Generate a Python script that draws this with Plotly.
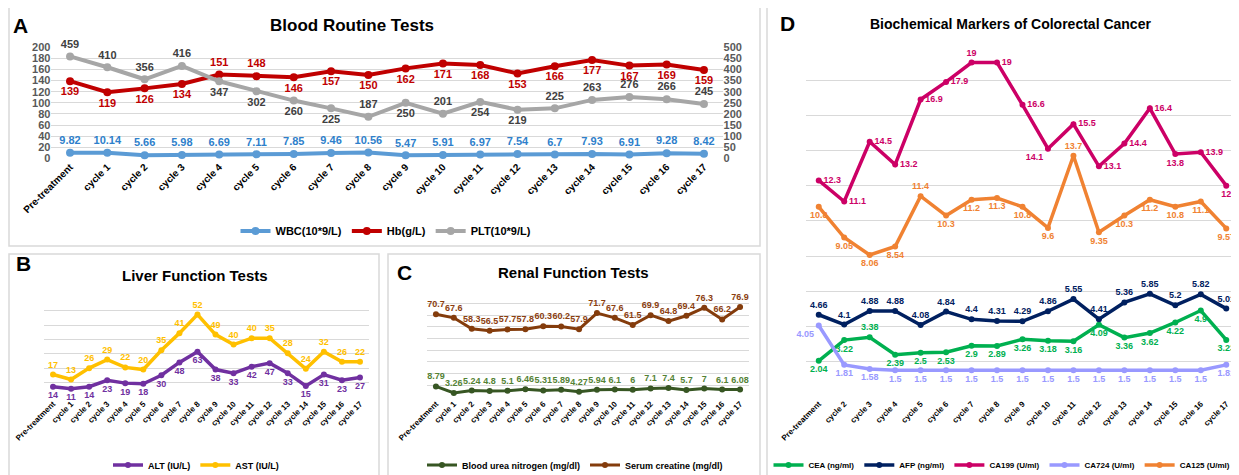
import plotly.graph_objects as go

# the page body has an 8px margin, so the figure is drawn 8px in from the top-left corner
OX, OY = 8, 8
FW, FH = 1239 - OX, 475 - OY

# ---------------- data ----------------
cats_abc = ["Pre-treatment"] + [f"cycle {i}" for i in range(1, 18)]
cats_d = ["Pre-treatment"] + [f"cycle {i}" for i in range(2, 18)]

wbc = [9.82, 10.14, 5.66, 5.98, 6.69, 7.11, 7.85, 9.46, 10.56, 5.47, 5.91, 6.97, 7.54, 6.7, 7.93, 6.91, 9.28, 8.42]
hb = [139, 119, 126, 134, 151, 148, 146, 157, 150, 162, 171, 168, 153, 166, 177, 167, 169, 159]
plt_ = [459, 410, 356, 416, 347, 302, 260, 225, 187, 250, 201, 254, 219, 225, 263, 276, 266, 245]

alt = [14, 11, 14, 23, 19, 18, 30, 48, 63, 38, 33, 42, 47, 33, 15, 31, 23, 27]
ast = [17, 13, 26, 29, 22, 20, 35, 41, 52, 49, 40, 40, 35, 28, 24, 32, 26, 22]

bun = [8.79, 3.26, 5.24, 4.8, 5.1, 6.46, 5.31, 5.89, 4.27, 5.94, 6.1, 6, 7.1, 7.4, 5.7, 7, 6.1, 6.08]
scr = [70.7, 67.6, 58.3, 56.5, 57.7, 57.8, 60.3, 60.2, 57.9, 71.7, 67.6, 61.5, 69.9, 64.8, 69.4, 76.3, 66.2, 76.9]

cea = [2.04, 3.22, 3.38, 2.39, 2.5, 2.53, 2.9, 2.89, 3.26, 3.18, 3.16, 4.09, 3.36, 3.62, 4.22, 4.9, 3.23]
afp = [4.66, 4.1, 4.88, 4.88, 4.08, 4.84, 4.4, 4.31, 4.29, 4.86, 5.55, 4.41, 5.36, 5.85, 5.2, 5.82, 5.01]
ca199 = [12.3, 11.1, 14.5, 13.2, 16.9, 17.9, 19, 19, 16.6, 14.1, 15.5, 13.1, 14.4, 16.4, 13.8, 13.9, 12]
ca724 = [4.05, 1.81, 1.58, 1.5, 1.5, 1.5, 1.5, 1.5, 1.5, 1.5, 1.5, 1.5, 1.5, 1.5, 1.5, 1.5, 1.81]
ca125 = [10.8, 9.05, 8.06, 8.54, 11.4, 10.3, 11.2, 11.3, 10.8, 9.6, 13.7, 9.35, 10.3, 11.2, 10.8, 11.1, 9.57]

# ---------------- label placement styles ----------------
T, B_, R = "top center", "bottom center", "middle right"
pos_hb = [B_] * 4 + [T, T] + [B_] * 12
pos_plt = [T] * 4 + [B_] * 4 + [T, B_, T, B_, B_] + [T] * 5
pos_cea = [B_, B_, T] + [B_] * 14
pos_724 = ["bottom left"] + [B_] * 16
pos_199 = [R] * 6 + [T] + [R, R] + ["bottom left"] + [R] * 4 + [B_, R, B_]
pos_125 = [B_] * 4 + [T] + [B_] * 5 + [T] + [B_] * 6

FONT = "Liberation Sans, Arial, sans-serif"


def px(x):
    return (x - OX) / FW


def py(y):
    return 1 - (y - OY) / FH


def lbl(size, color):
    return dict(family=FONT, size=size, color=color, weight="bold")


fig = go.Figure()

# ---------- Panel A ----------
fig.add_trace(go.Scatter(x=cats_abc, y=wbc, name="WBC(10*9/L)", mode="lines+markers+text",
                         text=wbc, textposition="top center", textfont=lbl(11, "#2E7FCB"),
                         line=dict(color="#5B9BD5", width=4), marker=dict(size=8, color="#5B9BD5"),
                         xaxis="x", yaxis="y", legend="legend", cliponaxis=False))
fig.add_trace(go.Scatter(x=cats_abc, y=hb, name="Hb(g/L)", mode="lines+markers+text",
                         text=hb, textposition=pos_hb, textfont=lbl(11, "#C00000"),
                         line=dict(color="#C00000", width=4), marker=dict(size=8, color="#C00000"),
                         xaxis="x", yaxis="y", legend="legend", cliponaxis=False))
fig.add_trace(go.Scatter(x=cats_abc, y=plt_, name="PLT(10*9/L)", mode="lines+markers+text",
                         text=plt_, textposition=pos_plt, textfont=lbl(11, "#404040"),
                         line=dict(color="#A6A6A6", width=4), marker=dict(size=8, color="#A6A6A6"),
                         xaxis="x", yaxis="y2", legend="legend", cliponaxis=False))

# ---------- Panel B ----------
fig.add_trace(go.Scatter(x=cats_abc, y=alt, name="ALT (IU/L)", mode="lines+markers+text",
                         text=alt, textposition="bottom center", textfont=lbl(9, "#7030A0"),
                         line=dict(color="#7030A0", width=3.5), marker=dict(size=6, color="#7030A0"),
                         stackgroup="liver", fill="none",
                         xaxis="x2", yaxis="y3", legend="legend2", cliponaxis=False))
fig.add_trace(go.Scatter(x=cats_abc, y=ast, name="AST (IU/L)", mode="lines+markers+text",
                         text=ast, textposition="top center", textfont=lbl(9, "#FFC000"),
                         line=dict(color="#FFC000", width=3.5), marker=dict(size=6, color="#FFC000"),
                         stackgroup="liver", fill="none",
                         xaxis="x2", yaxis="y3", legend="legend2", cliponaxis=False))

# ---------- Panel C ----------
fig.add_trace(go.Scatter(x=cats_abc, y=bun, name="Blood urea nitrogen (mg/dl)", mode="lines+markers+text",
                         text=bun, textposition="top center", textfont=lbl(9, "#548235"),
                         line=dict(color="#375623", width=3), marker=dict(size=6, color="#375623"),
                         xaxis="x3", yaxis="y4", legend="legend3", cliponaxis=False))
fig.add_trace(go.Scatter(x=cats_abc, y=scr, name="Serum creatine (mg/dl)", mode="lines+markers+text",
                         text=scr, textposition="top center", textfont=lbl(9, "#8B3E0F"),
                         line=dict(color="#843C0C", width=3), marker=dict(size=6, color="#843C0C"),
                         xaxis="x3", yaxis="y4", legend="legend3", cliponaxis=False))

# ---------- Panel D ----------
d_series = [
    ("CEA (ng/ml)", cea, "#00B050", "#00B050", pos_cea),
    ("AFP (ng/ml)", afp, "#002060", "#002060", "top center"),
    ("CA199 (U/ml)", ca199, "#CC0066", "#CC0066", pos_199),
    ("CA724 (U/ml)", ca724, "#9999FF", "#9999FF", pos_724),
    ("CA125 (U/ml)", ca125, "#F08232", "#F08232", pos_125),
]
for name, vals, col, tcol, pos in d_series:
    fig.add_trace(go.Scatter(x=cats_d, y=vals, name=name, mode="lines+markers+text",
                             text=vals, textposition=pos, textfont=lbl(9, tcol),
                             line=dict(color=col, width=3.5), marker=dict(size=6, color=col),
                             xaxis="x4", yaxis="y5", legend="legend4", cliponaxis=False))

grid = "#D9D9D9"
xcommon = dict(type="category", showgrid=False, zeroline=False, showline=False, ticks="",
               tickangle=-45, automargin=False)
ycommon = dict(showgrid=True, gridcolor=grid, gridwidth=1.3, zeroline=False, showline=False, ticks="",
               automargin=False)

fig.update_layout(
    width=FW, height=FH, margin=dict(l=0, r=0, t=0, b=0, autoexpand=False),
    paper_bgcolor="white", plot_bgcolor="rgba(0,0,0,0)",
    font=dict(family=FONT, color="#000000"),
    hovermode=False,
    xaxis=dict(**xcommon, domain=[px(51.4), px(722.6)], anchor="y", range=[-0.5, 17.5],
               tickfont=dict(family=FONT, size=10, color="#000000", weight="bold")),
    yaxis=dict(**ycommon, domain=[py(158.3), py(47.3)], range=[0, 200], dtick=20,
               showticklabels=True, tickfont=dict(family=FONT, size=11, color="#595959", weight="bold")),
    yaxis2=dict(overlaying="y", side="right", range=[0, 500], dtick=50, showgrid=False, zeroline=False,
                showline=False, ticks="", anchor="x", automargin=False,
                tickfont=dict(family=FONT, size=11, color="#595959", weight="bold")),
    xaxis2=dict(**xcommon, domain=[px(44), px(369)], anchor="y3", range=[-0.5, 17.5],
                tickfont=dict(family=FONT, size=8, color="#000000", weight="bold")),
    yaxis3=dict(**ycommon, domain=[py(396.7), py(296.7)], range=[0, 140], dtick=20, showticklabels=False,
                anchor="x2"),
    xaxis3=dict(**xcommon, domain=[px(427), px(749)], anchor="y4", range=[-0.5, 17.5],
                tickfont=dict(family=FONT, size=8, color="#000000", weight="bold")),
    yaxis4=dict(**ycommon, domain=[py(396.7), py(291.7)], range=[0, 90], dtick=10, showticklabels=False,
                anchor="x3"),
    xaxis4=dict(**xcommon, domain=[px(806), 1.0], anchor="y5", range=[-0.5, 16.5],
                tickfont=dict(family=FONT, size=8, color="#000000", weight="bold")),
    yaxis5=dict(**ycommon, domain=[py(396.7), py(45)], range=[0, 20], dtick=2, showticklabels=False,
                anchor="x4"),
)

legend_common = dict(orientation="h", xanchor="center", yanchor="middle", bgcolor="rgba(0,0,0,0)",
                     itemwidth=30, tracegroupgap=0)
fig.update_layout(
    legend=dict(**legend_common, x=px(386), y=py(231),
                font=dict(family=FONT, size=11, color="#000000", weight="bold")),
    legend2=dict(**legend_common, x=px(196), y=py(465),
                 font=dict(family=FONT, size=9, color="#000000", weight="bold")),
    legend3=dict(**legend_common, x=px(575), y=py(465),
                 font=dict(family=FONT, size=9, color="#000000", weight="bold")),
    legend4=dict(**legend_common, x=px(1002), y=py(465),
                 font=dict(family=FONT, size=8, color="#000000", weight="bold")),
)

# panel frames
shapes = []
for x0, y0, x1, y1 in [(9, 7, 760, 246), (9, 254, 379, 490), (388, 254, 760, 490), (767, 7, 1250, 490)]:
    shapes.append(dict(type="rect", xref="paper", yref="paper", x0=px(x0), x1=px(x1), y0=py(y1), y1=py(y0),
                       line=dict(color="#D9D9D9", width=1.5), fillcolor="rgba(0,0,0,0)", layer="below"))
fig.update_layout(shapes=shapes)

# titles and panel letters
ann = []
for t, x, y, s in [("A", 20, 25, 21), ("B", 23, 263, 21), ("C", 404, 272, 21), ("D", 787, 23, 21)]:
    ann.append(dict(text=t, x=px(x), y=py(y), xref="paper", yref="paper", showarrow=False,
                    xanchor="center", yanchor="middle",
                    font=dict(family=FONT, size=s, color="#000000", weight="bold")))
for t, x, y, s in [
    ("Blood Routine Tests", 352, 25, 17),
    ("Liver Function Tests", 195, 275, 15),
    ("Renal Function Tests", 573, 272, 15),
    ("Biochemical Markers of Colorectal Cancer", 1010, 24, 14),
]:
    ann.append(dict(text=t, x=px(x), y=py(y), xref="paper", yref="paper", showarrow=False,
                    xanchor="center", yanchor="middle",
                    font=dict(family=FONT, size=s, color="#000000", weight="bold")))
fig.update_layout(annotations=ann)

fig.write_html("out.html")
